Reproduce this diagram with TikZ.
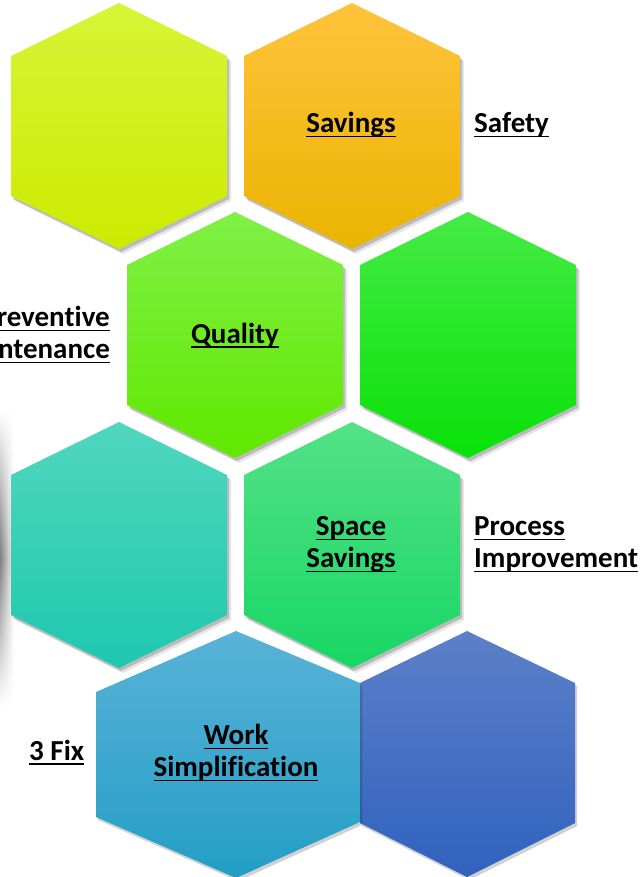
\documentclass[tikz,border=0pt]{standalone}
\usepackage{fontspec}
\setmainfont{Carlito}[Ligatures=NoCommon]
\newsavebox\ulbox
\newcommand\myul[1]{\sbox\ulbox{#1}\rlap{\rule[-4.5pt]{\wd\ulbox}{1.5pt}}\usebox\ulbox}
\usetikzlibrary{fadings}

\definecolor{hAt}{RGB}{214,245,55}\definecolor{hAm}{RGB}{212,255,0}\definecolor{hAb}{RGB}{204,235,0}
\definecolor{hBt}{RGB}{255,195,60}\definecolor{hBm}{RGB}{255,192,0}\definecolor{hBb}{RGB}{235,180,0}
\definecolor{hCt}{RGB}{128,240,70}\definecolor{hCm}{RGB}{104,240,10}\definecolor{hCb}{RGB}{96,232,0}
\definecolor{hDt}{RGB}{70,235,70}\definecolor{hDm}{RGB}{20,232,20}\definecolor{hDb}{RGB}{8,225,8}
\definecolor{hEt}{RGB}{80,215,190}\definecolor{hEm}{RGB}{44,216,188}\definecolor{hEb}{RGB}{30,200,175}
\definecolor{hFt}{RGB}{85,225,135}\definecolor{hFm}{RGB}{40,222,110}\definecolor{hFb}{RGB}{22,215,100}
\definecolor{hGt}{RGB}{90,178,215}\definecolor{hGm}{RGB}{55,170,210}\definecolor{hGb}{RGB}{35,158,198}
\definecolor{hHt}{RGB}{92,128,200}\definecolor{hHm}{RGB}{65,112,200}\definecolor{hHb}{RGB}{48,98,190}

\tikzfading[name=vfade, top color=transparent!100, bottom color=transparent!100, middle color=transparent!0]

\newcommand\hexpath[2]{(#1,#2-123) -- (#1+108,#2-70) -- (#1+108,#2+70) -- (#1,#2+123) -- (#1-108,#2+70) -- (#1-108,#2-70) -- cycle}
\newcommand\hexa[3]{%
  \fill[black,opacity=.10,shift={(4,5)}] \hexpath{#1}{#2};
  \fill[black,opacity=.18,shift={(2,3)}] \hexpath{#1}{#2};
  \shade[top color=#3t, middle color=#3m, bottom color=#3b] \hexpath{#1}{#2};}

\tikzset{
  lbl/.style={inner sep=0pt, font=\fontsize{29}{32}\selectfont\bfseries, text=black},
}

\begin{document}
\begin{tikzpicture}[x=1pt,y=-1pt]
\useasboundingbox (0,0) rectangle (640,877);
\clip (0,0) rectangle (640,877);
\fill[white] (0,0) rectangle (640,877);

% grey shadow at the left edge
\shade[left color=black!50, right color=white, path fading=vfade] (0,410) rectangle (14,705);

% hexagons
\hexa{119}{126}{hA}
\hexa{352}{126}{hB}
\hexa{235}{335}{hC}
\hexa{468}{335}{hD}
\hexa{119}{545}{hE}
\hexa{352}{545}{hF}
% bottom row
\fill[black,opacity=.18,shift={(2,3)}] (467,631) -- (575,683) -- (575,823) -- (467,877) -- (360,823) -- (360,683) -- cycle;
\shade[top color=hHt, middle color=hHm, bottom color=hHb] (467,631) -- (575,683) -- (575,823) -- (467,877) -- (360,823) -- (360,683) -- cycle;
\fill[black,opacity=.18,shift={(2,3)}] (236,631) -- (360,683) -- (360,822) -- (236,878) -- (96,817) -- (96,692) -- cycle;
\shade[top color=hGt, middle color=hGm, bottom color=hGb] (236,631) -- (360,683) -- (360,822) -- (236,878) -- (96,817) -- (96,692) -- cycle;

% labels
\node[lbl, anchor=base] (savings) at (351,133) {\myul{Savings}};
\node[lbl, anchor=base west] (safety) at (474,133) {\myul{Safety}};
\node[lbl, anchor=east, align=right] (pm) at (110,335) {\myul{Preventive}\\\myul{Maintenance}};
\node[lbl, anchor=base] (quality) at (235,343) {\myul{Quality}};
\node[lbl, align=center] (space) at (351,544.5) {\myul{Space}\\\myul{Savings}};
\node[lbl, anchor=west, align=left] (process) at (474,544.5) {\myul{Process}\\\myul{Improvement}};
\node[lbl, align=center] (work) at (236,753) {\myul{Work}\\\myul{Simplification}};
\node[lbl, anchor=base west] (fix) at (29,760) {\myul{3 Fix}};
\end{tikzpicture}
\end{document}
